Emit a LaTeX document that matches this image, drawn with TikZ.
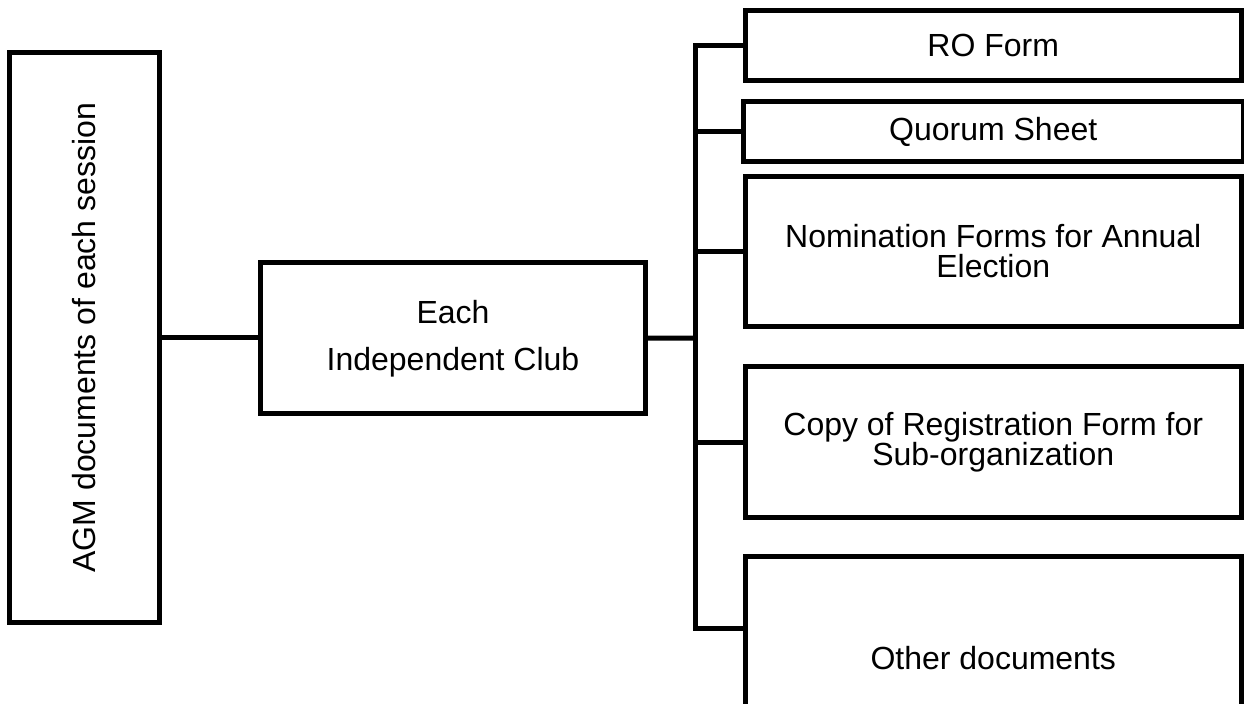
\documentclass[tikz,border=0pt]{standalone}
\usepackage{fontspec}
\setmainfont{Liberation Sans}
\usepackage{tikz}
\usetikzlibrary{positioning,calc}
\def\docfont{\fontsize{16}{15}\selectfont}

\begin{document}
\begin{tikzpicture}[x=0.5pt,y=-0.5pt,
    box/.style={draw, rectangle, line width=2.5pt, inner sep=0pt, align=center, font=\docfont},
    link/.style={line width=2.5pt}]
    \useasboundingbox (0,0) rectangle (1244,704);
    \node[box, minimum width=75pt, minimum height=284.75pt] (agm) at (84.5,337.75) {\rotatebox{90}{AGM documents of each session}};
    \node[box, minimum width=192.5pt, minimum height=75.25pt] (club) at (453,338.25) {Each\\[8.5pt]Independent Club};
    \node[box, minimum width=247.75pt, minimum height=35pt] (ro) at (993.25,45.5) {RO Form};
    \node[box, minimum width=249.75pt, minimum height=30pt] (quorum) at (993.25,131.5) {Quorum Sheet};
    \node[box, minimum width=247.75pt, minimum height=75pt] (nom) at (993.25,251.5) {Nomination Forms for Annual\\Election};
    \node[box, minimum width=247.75pt, minimum height=75.25pt] (copy) at (993.25,442.25) {Copy of Registration Form for\\Sub-organization};
    \node[box, minimum width=247.75pt, minimum height=101pt] (other) at (993.25,658) {Other documents};
    \coordinate (jn) at (695.5,338);
    \coordinate (otherin) at ($(other.north west)+(0,74.5)$);
    \draw[link] (agm.east) -- (agm.east -| club.west);
    \draw[link] (club.east) -- (jn);
    \draw[link] (ro.west) -| (jn) |- (otherin);
    \draw[link]
    (jn |- quorum.west) edge (quorum.west)
    (jn |- nom.west) edge (nom.west)
    (jn |- copy.west) edge (copy.west);
\end{tikzpicture}
\end{document}
